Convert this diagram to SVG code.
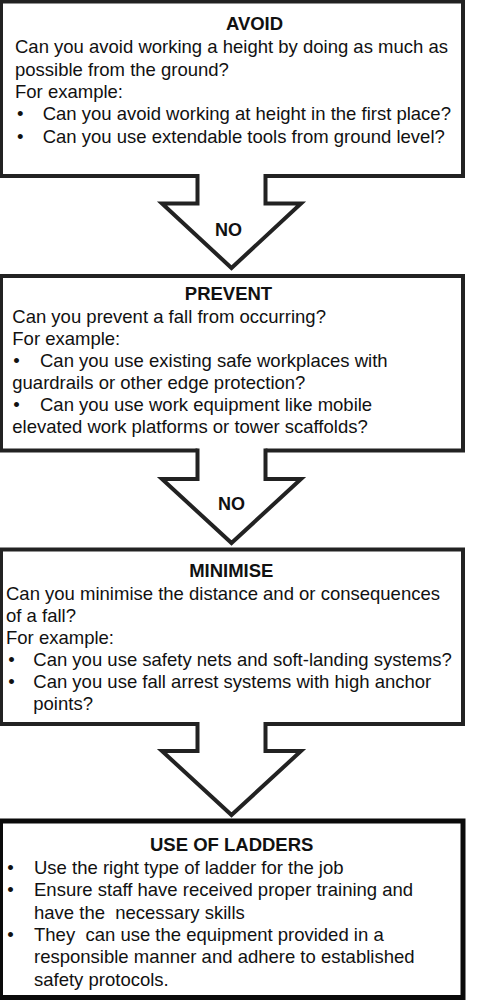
<svg xmlns="http://www.w3.org/2000/svg" width="500" height="1000" viewBox="0 0 500 1000">
<style>
.box{fill:#fff;stroke:#222;stroke-width:4}
.box4{fill:#fff;stroke:#0a0a0a;stroke-width:5}
text{font-family:"Liberation Sans",Arial,sans-serif;font-size:18.5px;fill:#111}
.t{font-weight:bold;text-anchor:middle}
.no{font-weight:bold;font-size:18px;text-anchor:middle}
.af{fill:#fff;stroke:none}
.as{fill:none;stroke:#222;stroke-width:4;stroke-linejoin:miter;stroke-miterlimit:10}
</style>
<rect width="500" height="1000" fill="#fff"/>
<g id="avoid">
<rect class="box" x="1" y="1.5" width="462" height="174.5"/>
<text class="t" x="254.5" y="30">AVOID</text>
<text x="15" y="53.3">Can you avoid working a height by doing as much as</text>
<text x="15" y="75.6">possible from the ground?</text>
<text x="15" y="97.9">For example:</text>
<text y="120.2"><tspan x="17">•</tspan><tspan x="42.7">Can you avoid working at height in the first place?</tspan></text>
<text y="142.5"><tspan x="17">•</tspan><tspan x="42.7">Can you use extendable tools from ground level?</tspan></text>
</g>
<g id="prevent">
<rect class="box" x="1" y="276" width="462" height="174.5"/>
<text class="t" x="228.5" y="300">PREVENT</text>
<text x="12.3" y="322.7">Can you prevent a fall from occurring?</text>
<text x="12.3" y="344.7">For example:</text>
<text y="366.7"><tspan x="13.3">•</tspan><tspan x="40">Can you use existing safe workplaces with</tspan></text>
<text x="12.3" y="388.7">guardrails or other edge protection?</text>
<text y="410.7"><tspan x="13.3">•</tspan><tspan x="40">Can you use work equipment like mobile</tspan></text>
<text x="12.3" y="432.7">elevated work platforms or tower scaffolds?</text>
</g>
<g id="minimise">
<rect class="box" x="1" y="549.5" width="462" height="174.5"/>
<text class="t" x="231.3" y="577">MINIMISE</text>
<text x="6" y="600">Can you minimise the distance and or consequences</text>
<text x="6" y="622">of a fall?</text>
<text x="6" y="644">For example:</text>
<text y="666"><tspan x="8.3">•</tspan><tspan x="33.3">Can you use safety nets and soft-landing systems?</tspan></text>
<text y="688"><tspan x="8.3">•</tspan><tspan x="33.3">Can you use fall arrest systems with high anchor</tspan></text>
<text x="33.3" y="710">points?</text>
</g>
<g id="ladders">
<rect class="box4" x="0.5" y="821" width="462.5" height="176.5"/>
<text class="t" x="231.7" y="851">USE OF LADDERS</text>
<text y="874"><tspan x="7.3">•</tspan><tspan x="34">Use the right type of ladder for the job</tspan></text>
<text y="896.3"><tspan x="7.3">•</tspan><tspan x="34">Ensure staff have received proper training and</tspan></text>
<text x="34" y="918.6" xml:space="preserve">have the  necessary skills</text>
<text y="941" xml:space="preserve"><tspan x="7.3">•</tspan><tspan x="34">They  can use the equipment provided in a</tspan></text>
<text x="34" y="963.3">responsible manner and adhere to established</text>
<text x="34" y="985.6">safety protocols.</text>
</g>
<g id="connectors">
<g id="arrow1">
<polygon class="af" points="197.5,173 197.5,203.5 162,203.5 231.5,268 301,203.5 265.5,203.5 265.5,173"/>
<polyline class="as" points="197.5,174 197.5,203.5 162,203.5 231.5,268 301,203.5 265.5,203.5 265.5,174"/>
<text class="no" x="228.5" y="236">NO</text>
</g>
<g id="arrow2">
<polygon class="af" points="197.5,447.5 197.5,479 162,479 231.5,543 301,479 265.5,479 265.5,447.5"/>
<polyline class="as" points="197.5,448.5 197.5,479 162,479 231.5,543 301,479 265.5,479 265.5,448.5"/>
<text class="no" x="231.5" y="510">NO</text>
</g>
<g id="arrow3">
<polygon class="af" points="197.5,721 197.5,751 162,751 231.5,815 301,751 265.5,751 265.5,721"/>
<polyline class="as" points="197.5,722 197.5,751 162,751 231.5,815 301,751 265.5,751 265.5,722"/>
</g>
</g>
</svg>
